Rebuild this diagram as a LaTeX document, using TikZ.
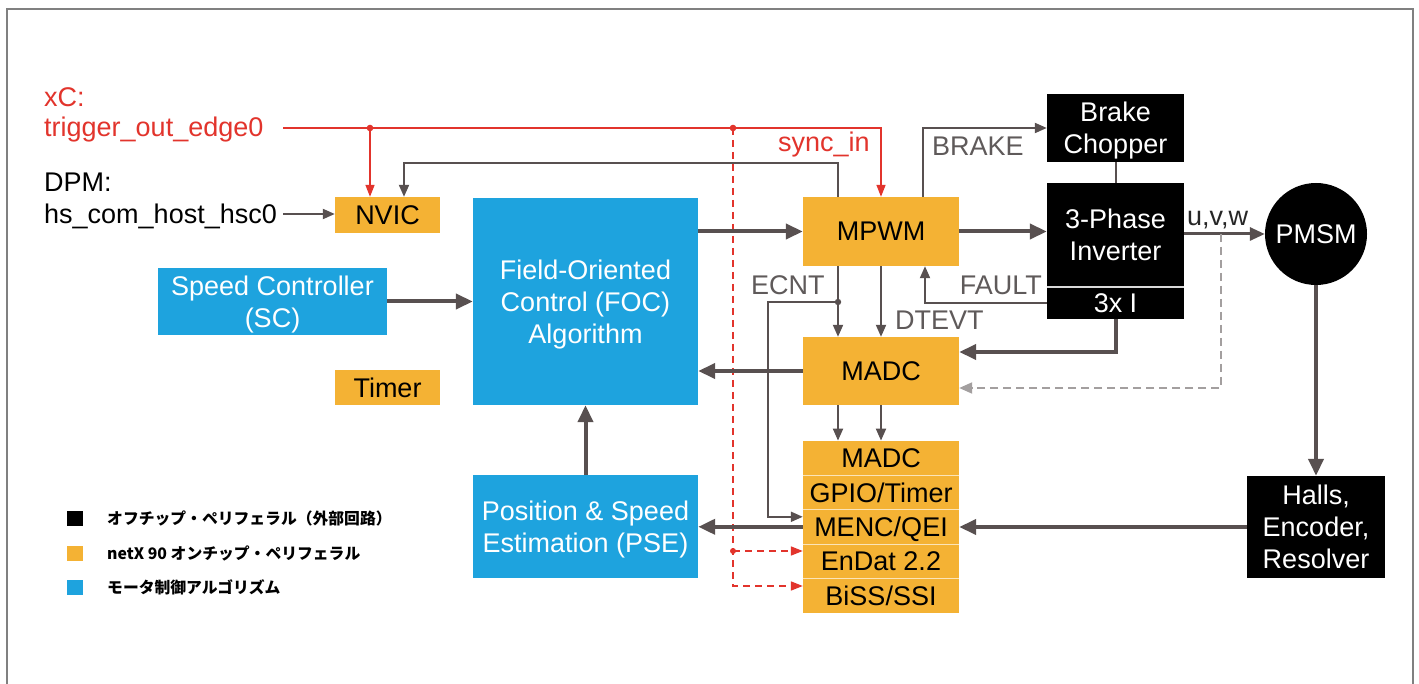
\documentclass[tikz,border=0pt]{standalone}
\usepackage{fontspec}
\setmainfont{Liberation Sans}
\newfontfamily\cjk{Noto Sans CJK JP}
\usetikzlibrary{arrows.meta}
\definecolor{ob}{RGB}{244,178,52}
\definecolor{bb}{RGB}{30,163,222}
\definecolor{ln}{RGB}{88,80,80}
\definecolor{rdc}{RGB}{226,52,44}
\definecolor{lblc}{RGB}{95,90,90}
\definecolor{frm}{RGB}{128,128,128}
\tikzset{
  lbl/.style={inner sep=0pt, font=\fontsize{27}{32}\selectfont},
  blk/.style={rectangle, inner sep=0pt, align=center, text depth=0pt, font=\fontsize{27}{32}\selectfont},
  obox/.style={blk, fill=ob, text=black},
  bbox/.style={blk, fill=bb, text=white},
  kbox/.style={blk, fill=black, text=white},
  conn/.style={draw=ln, line width=2pt, -{Triangle[length=12pt,width=10pt]}},
  fat/.style={draw=ln, line width=4pt, -{Triangle[length=17pt,width=15pt]}},
  med/.style={draw=ln, line width=3pt, -{Triangle[length=15pt,width=13pt]}},
  rline/.style={draw=rdc, line width=1.6pt},
  rarrow/.style={rline, -{Triangle[length=12pt,width=9pt]}},
  rdash/.style={rarrow, dash pattern=on 7pt off 5pt},
  gdash/.style={draw=ln!55, line width=2pt, dash pattern=on 8pt off 5pt, -{Triangle[length=13pt,width=11pt]}},
  legtext/.style={anchor=west, inner sep=0pt, font=\cjk\bfseries\fontsize{15.8}{18}\selectfont},
  legbox/.style={minimum width=16pt, minimum height=15pt, inner sep=0pt},
}
\begin{document}
\begin{tikzpicture}[x=1pt,y=-1pt]
\useasboundingbox (0,0) rectangle (1419,684);
\fill[white] (0,0) rectangle (1419,684);
% frame
\draw[frm, line width=2pt] (7,684) -- (7,9) -- (1413,9) -- (1413,684);

% left texts
\node[lbl, text=rdc, anchor=base west] (xc) at (44,107) {xC:};
\node[lbl, text=rdc, anchor=base west] (trig) at (44,137) {trigger\_out\_edge0};
\node[lbl, anchor=base west] (dpm) at (44,192) {DPM:};
\node[lbl, anchor=base west] (hs) at (44,224) {hs\_com\_host\_hsc0};

% blocks
\node[obox, minimum width=105, minimum height=36] (nvic) at (387.5,215) {NVIC};
\node[bbox, minimum width=229, minimum height=67] (sc) at (272.5,301.5) {Speed Controller\\(SC)};
\node[bbox, minimum width=225, minimum height=207] (foc) at (585.5,301.5) {Field-Oriented\\Control (FOC)\\Algorithm};
\node[obox, minimum width=105, minimum height=35] (timer) at (387.5,387.5) {Timer};
\node[bbox, minimum width=225, minimum height=103] (pse) at (585.5,526.5) {Position \& Speed\\Estimation (PSE)};
\node[obox, minimum width=156, minimum height=69] (mpwm) at (881,231.5) {MPWM};
\node[obox, minimum width=156, minimum height=68] (madc) at (881,371) {MADC};
\node[obox, minimum width=156, minimum height=34.4] (s1) at (881,458.0) {MADC};
\node[obox, minimum width=156, minimum height=34.4] (s2) at (881,492.4) {GPIO/Timer};
\node[obox, minimum width=156, minimum height=34.4] (s3) at (881,526.8) {MENC/QEI};
\node[obox, minimum width=156, minimum height=34.4] (s4) at (881,561.2) {EnDat 2.2};
\node[obox, minimum width=156, minimum height=34.4] (s5) at (881,595.6) {BiSS/SSI};
\foreach \a/\b in {s1/s2,s2/s3,s3/s4,s4/s5}
  \draw[ob!35!white, line width=1.2pt] (\a.south west) -- (\a.south east);
\node[kbox, minimum width=137, minimum height=68] (brake) at (1115.5,128) {Brake\\Chopper};
\node[kbox, minimum width=137, minimum height=104] (inv) at (1115.5,235) {3-Phase\\Inverter};
\node[kbox, minimum width=137, minimum height=32] (inv3) at (1115.5,303) {3x I};
\draw[white!85!black, line width=1.5pt] (inv.south west) -- (inv.south east);
\node[kbox, circle, minimum size=102] (pmsm) at (1316,234) {PMSM};
\node[kbox, minimum width=138, minimum height=102] (halls) at (1316,527) {Halls,\\Encoder,\\Resolver};

% labels
\node[lbl, text=rdc, anchor=base west] (sync) at (778,152) {sync\_in};
\node[lbl, text=lblc, anchor=base west] (brk) at (932,156) {BRAKE};
\node[lbl, text=lblc, anchor=base west] (ecnt) at (751,295) {ECNT};
\node[lbl, text=lblc, anchor=base east] (fault) at (1042,295) {FAULT};
\node[lbl, text=lblc, anchor=base west] (dtevt) at (895,330) {DTEVT};
\node[lbl, text=black!85, anchor=base west] (uvw) at (1187,226) {u,v,w};

% red trigger lines
\coordinate (rs) at (283,128);
\coordinate (rd1) at (370,128);
\coordinate (rd2) at (733,128);
\coordinate (rd3) at (733,551);
\coordinate (rd4) at (733,586);
\draw[rarrow] (rs) -| (mpwm.north);
\draw[rarrow] (rd1) -- (rd1 |- nvic.north);
\draw[rdash] (rd2) -- (rd4) -- (rd4 -| s5.west);
\draw[rdash] (rd3) -- (rd3 -| s4.west);
\fill[rdc] (rd1) circle (3.3);
\fill[rdc] (rd2) circle (3.3);
\fill[rdc] (rd3) circle (3);

% DPM -> NVIC
\coordinate (hsend) at (283,214);
\draw[conn] (hsend) -- (hsend -| nvic.west);
% MPWM -> NVIC (feedback)
\draw[conn] ([xshift=-43pt]mpwm.north) -- ++(0,-34) -| ([xshift=16.5pt]nvic.north);

% main flow
\draw[fat] (sc.east) -- (sc.east -| foc.west);
\draw[fat] (mpwm.west -| foc.east) -- (mpwm.west);
\draw[fat] (mpwm.east) -- (mpwm.east -| inv.west);
\draw[med] (pmsm.west -| inv.east) -- (pmsm.west);
\draw[conn] ([xshift=42pt]mpwm.north) |- (brake.west);
\draw[draw=ln, line width=2pt] (brake.south) -- (inv.north);
\draw[conn] (inv3.west) -| ([xshift=44pt]mpwm.south);
\draw[conn] ([xshift=-43pt]mpwm.south) -- ([xshift=-43pt]madc.north);
\coordinate (ec) at (838,302);
\draw[conn] (ec) -- ++(-70,0) |- ([yshift=10pt]s3.west);
\fill[ln] (ec) circle (3.2);
\draw[conn] (mpwm.south) -- (madc.north);
\draw[fat] (inv3.south) |- ([yshift=19pt]madc.east);
\coordinate (uv) at (1221,234);
\draw[gdash] (uv) |- ([yshift=-17pt]madc.east);
\draw[fat] (madc.west) -- (madc.west -| foc.east);
\draw[conn] ([xshift=-43pt]madc.south) -- ([xshift=-43pt]s1.north);
\draw[conn] (madc.south) -- (s1.north);
\draw[fat] (s3.west) -- (s3.west -| pse.east);
\draw[fat] (halls.west) -- (halls.west -| s3.east);
\draw[fat] (pmsm.south) -- (halls.north);
\draw[fat] (pse.north) -- (foc.south);

% legend
\node[legbox, fill=black] (lg1) at (75,518) {};
\node[legbox, fill=ob] (lg2) at (75,553) {};
\node[legbox, fill=bb] (lg3) at (75,587) {};
\node[legtext] (lt1) at (107,518) {オフチップ・ペリフェラル（外部回路）};
\node[legtext] (lt2) at (107,553) {netX 90 オンチップ・ペリフェラル};
\node[legtext] (lt3) at (107,587) {モータ制御アルゴリズム};
\end{tikzpicture}
\end{document}
